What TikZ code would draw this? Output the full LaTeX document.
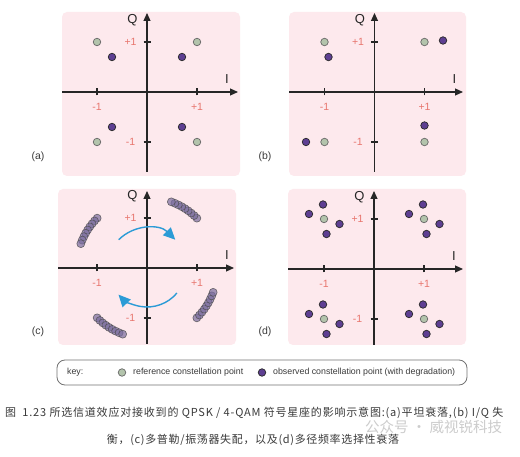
\documentclass[tikz,border=0pt]{standalone}
\usepackage{fontspec}
\setmainfont{Liberation Sans}
\newfontfamily\cjk{Noto Sans CJK SC}
\usetikzlibrary{arrows.meta}
\definecolor{pinkbg}{HTML}{FDE9ED}
\definecolor{ticklab}{HTML}{E8766E}
\definecolor{refpt}{HTML}{B3C4AC}
\definecolor{obspt}{HTML}{5E3F92}
\definecolor{clus}{HTML}{7A6C9E}
\definecolor{rotblue}{HTML}{2B9BD6}
\definecolor{captxt}{HTML}{3A3A3A}
\tikzset{
 panel/.style={fill=pinkbg, draw=none, rounded corners=5pt},
 axis/.style={line width=1.1pt, draw=black!85, -{Triangle[length=8pt,width=7pt]}},
 tickmark/.style={line width=1.1pt, draw=black!85},
 ticklabel/.style={text=ticklab, font=\fontsize{10.5}{11}\selectfont, inner sep=0pt},
 axlabel/.style={text=black!85, font=\fontsize{13}{13}\selectfont, inner sep=0pt},
 refdot/.style={circle, fill=refpt, draw=black!60, line width=0.7pt, minimum size=7.5pt, inner sep=0pt},
 obsdot/.style={circle, fill=obspt, draw=black!85, line width=0.7pt, minimum size=7.5pt, inner sep=0pt},
 clusdot/.style={circle, fill=clus, fill opacity=0.7, draw=black!70, draw opacity=0.8, line width=0.6pt, minimum size=8pt, inner sep=0pt},
 rotarrow/.style={draw=rotblue, line width=1.4pt, -{Triangle[length=12pt,width=11pt]}},
 panellabel/.style={text=captxt, font=\fontsize{10.5}{11}\selectfont, inner sep=0pt},
 keytext/.style={text=captxt, font=\fontsize{8.8}{9}\selectfont, inner sep=0pt, anchor=west},
 captext/.style={text=captxt, font=\cjk\fontsize{11}{12}\selectfont\addfontfeature{LetterSpace=6}, inner sep=0pt},
 captextwide/.style={text=captxt, font=\cjk\fontsize{11}{12}\selectfont\addfontfeature{LetterSpace=7.3}, inner sep=0pt},
}
\newcommand\myaxes[5]{%
 \coordinate (#1xl) at (#2,0); \coordinate (#1xr) at (#3,0);
 \coordinate (#1yb) at (0,#4); \coordinate (#1yt) at (0,#5);
 \draw[axis] (#1xl) -- (#1xr);
 \draw[axis] (#1yb) -- (#1yt);
 \foreach \v in {-1,1} {\draw[tickmark] (\v,-0.07) -- (\v,0.07); \draw[tickmark] (-0.07,\v) -- (0.07,\v);}
 \node[ticklabel] (#1t1) at (-0.33,1) {+1};
 \node[ticklabel] (#1t2) at (-0.33,-1) {-1};
 \node[ticklabel] (#1t3) at (-1,-0.3) {-1};
 \node[ticklabel] (#1t4) at (1,-0.3) {+1};
 \node[axlabel] (#1Q) at (-0.29,1.43) {Q};
 \node[axlabel] (#1I) at (1.6,0.26) {I};
}
\begin{document}
\begin{tikzpicture}[x=1pt,y=-1pt]
\fill[white] (0,0) rectangle (520,457);
\useasboundingbox (0,0) rectangle (520,457);
% panel boxes
\fill[panel] (62,12) rectangle (240,176);
\fill[panel] (289,12) rectangle (466,176);
\fill[panel] (58,189) rectangle (236,345);
\fill[panel] (288,189) rectangle (466,345);
% (a)
\begin{scope}[shift={(147,92)}, x=50pt, y=50pt]
 \myaxes{a-}{-1.7}{1.82}{-1.6}{1.58}
 \foreach \sx/\sy [count=\n] in {1/1,-1/1,-1/-1,1/-1} {
  \node[refdot] (a-r\n) at (\sx,\sy) {};
  \node[obsdot] (a-o\n) at (0.7*\sx,0.7*\sy) {};
 }
\end{scope}
% (b)
\begin{scope}[shift={(374.5,92)}, x=50pt, y=50pt]
 \myaxes{b-}{-1.71}{1.77}{-1.6}{1.58}
 \foreach \sx/\sy [count=\n] in {1/1,-1/1,-1/-1,1/-1} {
  \node[refdot] (b-r\n) at (\sx,\sy) {};
 }
 \node[obsdot] (b-o1) at (1.37,1.03) {};
 \node[obsdot] (b-o2) at (-0.92,0.7) {};
 \node[obsdot] (b-o3) at (-1.37,-1) {};
 \node[obsdot] (b-o4) at (1,-0.67) {};
\end{scope}
% (c)
\begin{scope}[shift={(147,268)}, x=50pt, y=50pt]
 \myaxes{c-}{-1.78}{1.74}{-1.52}{1.54}
 \foreach \k in {0,1,2,3} {
  \foreach \i in {0,...,8} {
   \pgfmathsetmacro\ang{45+90*\k+3.1*\i}
   \node[clusdot] (c-p\k-\i) at (\ang:1.41) {};
  }
 }
 \coordinate (c-u1) at (135:0.8);
 \draw[rotarrow] (c-u1) arc[start angle=135, end angle=45, radius=0.8];
 \coordinate (c-l1) at (-40:0.78);
 \draw[rotarrow] (c-l1) arc[start angle=-40, end angle=-137, radius=0.78];
\end{scope}
% (d)
\begin{scope}[shift={(374,269)}, x=50pt, y=50pt]
 \myaxes{d-}{-1.72}{1.78}{-1.52}{1.56}
 \foreach \sx/\sy [count=\n] in {1/1,-1/1,-1/-1,1/-1} {
  \node[refdot] (d-r\n) at (\sx,\sy) {};
  \foreach \dx/\dy [count=\m] in {-0.02/0.29,-0.3/0.1,0.31/-0.1,0.05/-0.3} {
   \node[obsdot] (d-o\n-\m) at (\sx+\dx,\sy+\dy) {};
  }
 }
\end{scope}
% panel labels
\node[panellabel] (la) at (38,157) {(a)};
\node[panellabel] (lb) at (265,157) {(b)};
\node[panellabel] (lc) at (38,332) {(c)};
\node[panellabel] (ld) at (265,332) {(d)};
% key
\draw[draw=black!55, line width=0.8pt, rounded corners=8pt] (57,360) rectangle (467,385);
\node[keytext] (k0) at (67,372.5) {key:};
\node[refdot] (k1) at (122,372.5) {};
\node[keytext] (k2) at (133,372.5) {reference constellation point};
\node[obsdot] (k3) at (262,372.5) {};
\node[keytext] (k4) at (273,372.5) {observed constellation point (with degradation)};
% caption
\node[captextwide, anchor=west] (cap1) at (5,413) {图\hspace{3pt} 1.23 所选信道效应对接收到的 QPSK / 4-QAM 符号星座的影响示意图:(a)平坦衰落,(b) I/Q 失};
\node[captext] (cap2) at (253,440) {衡，(c)多普勒/振荡器失配，以及(d)多径频率选择性衰落};
\node[text=black!20, font=\cjk\fontsize{14.5}{15}\selectfont, inner sep=0pt, anchor=west] (wm) at (365,427) {公众号 · 威视锐科技};
\end{tikzpicture}
\end{document}
